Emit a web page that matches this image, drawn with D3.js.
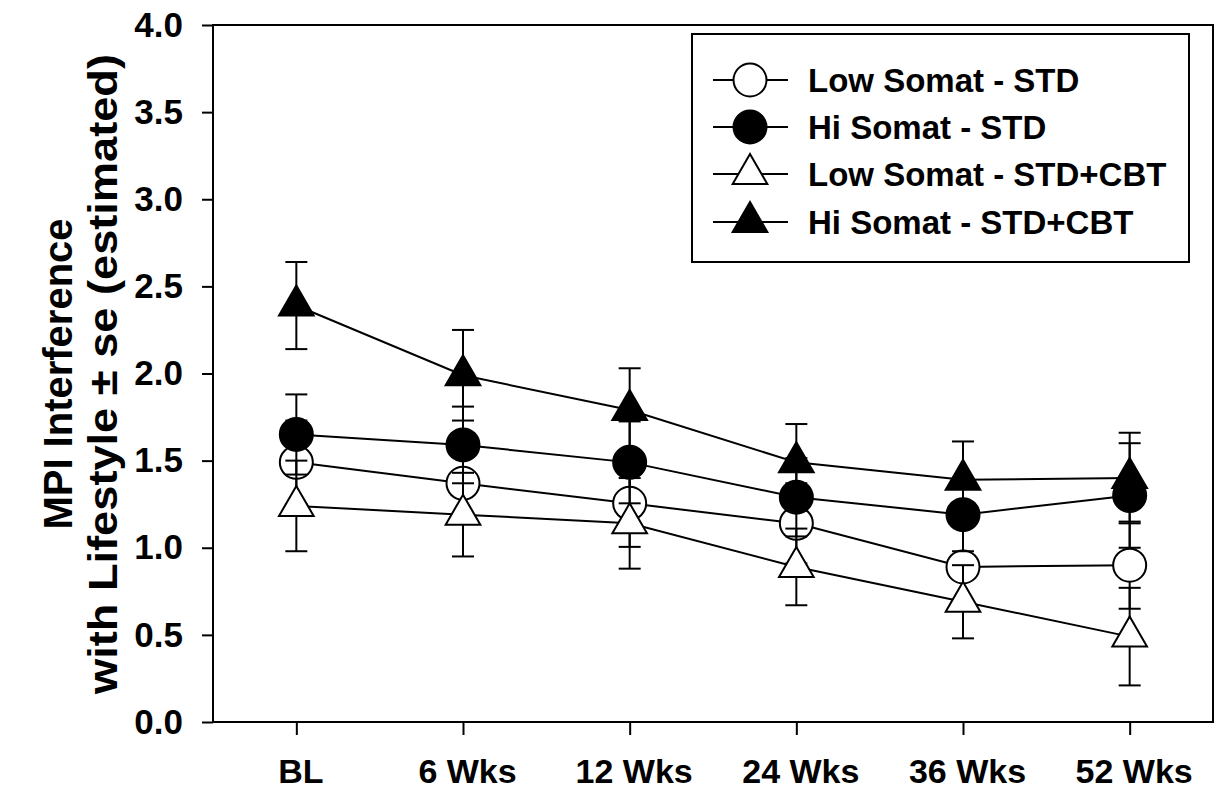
<!DOCTYPE html>
<html>
<head>
<meta charset="utf-8">
<script src="https://cdn.jsdelivr.net/npm/d3@7"></script>
<style>
  html, body { margin: 0; padding: 0; background: #fff; }
  svg { display: block; }
  text { font-family: "Liberation Sans", Arial, sans-serif; font-weight: bold; fill: #000; }
</style>
</head>
<body>
<svg id="chart" width="1218" height="789"></svg>
<script>
// ---- data ----
const categories = ["BL", "6 Wks", "12 Wks", "24 Wks", "36 Wks", "52 Wks"];
const yTicks = [0, 0.5, 1, 1.5, 2, 2.5, 3, 3.5, 4];
const seriesNames = ["Low Somat - STD", "Hi Somat - STD", "Low Somat - STD+CBT", "Hi Somat - STD+CBT"];

const lowStdMean  = [1.49, 1.37, 1.255, 1.14, 0.89, 0.90];
const lowStdSE    = [0.24, 0.22, 0.25, 0.23, 0.23, 0.25];
const hiStdMean   = [1.65, 1.59, 1.49, 1.29, 1.19, 1.30];
const hiStdSE     = [0.23, 0.22, 0.235, 0.225, 0.21, 0.30];
const lowCbtMean  = [1.24, 1.19, 1.14, 0.89, 0.69, 0.49];
const lowCbtSE    = [0.26, 0.24, 0.26, 0.22, 0.21, 0.28];
const hiCbtMean   = [2.39, 1.99, 1.79, 1.49, 1.39, 1.40];
const hiCbtSE     = [0.25, 0.26, 0.24, 0.22, 0.22, 0.26];

const series = [
  { name: seriesNames[0], mean: lowStdMean, se: lowStdSE, shape: "circle",   fill: "#fff" },
  { name: seriesNames[1], mean: hiStdMean,  se: hiStdSE,  shape: "circle",   fill: "#000" },
  { name: seriesNames[2], mean: lowCbtMean, se: lowCbtSE, shape: "triangle", fill: "#fff" },
  { name: seriesNames[3], mean: hiCbtMean,  se: hiCbtSE,  shape: "triangle", fill: "#000" }
];

// ---- layout ----
const svg = d3.select("#chart");
const L = 213, R = 1213, T = 25, B = 722;

const x = d3.scalePoint().domain(categories).range([L, R]).padding(0.5);
const y = d3.scaleLinear().domain([0, 4]).range([B, T]);

const sym = {
  circle: d3.symbol().type(d3.symbolCircle).size(Math.PI * 16.5 * 16.5),
  triangle: d3.symbol().type(d3.symbolTriangle).size(520)
};

// axes
const yAxis = d3.axisLeft(y).tickValues(yTicks).tickFormat(d3.format(".1f")).tickSize(11).tickPadding(19);
const gy = svg.append("g").attr("transform", `translate(${L},0)`).call(yAxis);
gy.select(".domain").remove();
gy.selectAll("line").attr("stroke", "#000").attr("stroke-width", 2);
gy.selectAll("text").style("font-size", "35px");

const xAxis = d3.axisBottom(x).tickSize(13).tickPadding(24);
const gx = svg.append("g").attr("transform", `translate(0,${B})`).call(xAxis);
gx.select(".domain").remove();
gx.selectAll("line").attr("stroke", "#000").attr("stroke-width", 2);
gx.selectAll("text").style("font-size", "34px").attr("dx", 4);

// frame
svg.append("rect").attr("x", L).attr("y", T).attr("width", R - L).attr("height", B - T)
  .attr("fill", "none").attr("stroke", "#000").attr("stroke-width", 2);

// y title
const title = svg.append("g").attr("transform", "translate(0,374) rotate(-90)");
title.append("text").attr("x", 0).attr("y", 72).attr("text-anchor", "middle")
  .style("font-size", "40px").text("MPI Interference");
title.append("text").attr("x", 0).attr("y", 117).attr("text-anchor", "middle")
  .attr("textLength", 640).attr("lengthAdjust", "spacingAndGlyphs")
  .style("font-size", "41px").text("with Lifestyle \u00B1 se (estimated)");

// series
const line = d3.line().x((d, i) => x(categories[i])).y(d => y(d));
const capW = 11;
series.forEach(s => {
  const g = svg.append("g");
  s.mean.forEach((m, i) => {
    const cx = x(categories[i]);
    const lo = y(m - s.se[i]), hi = y(m + s.se[i]);
    g.append("line").attr("x1", cx).attr("x2", cx).attr("y1", lo).attr("y2", hi)
      .attr("stroke", "#000").attr("stroke-width", 2);
    [lo, hi].forEach(yy => g.append("line").attr("x1", cx - capW).attr("x2", cx + capW)
      .attr("y1", yy).attr("y2", yy).attr("stroke", "#000").attr("stroke-width", 2));
  });
  g.append("path").datum(s.mean).attr("d", line).attr("fill", "none")
    .attr("stroke", "#000").attr("stroke-width", 2);
  g.selectAll(".m").data(s.mean).enter().append("path")
    .attr("transform", (d, i) => `translate(${x(categories[i])},${y(d)})`)
    .attr("d", sym[s.shape]()).attr("fill", s.fill).attr("stroke", "#000").attr("stroke-width", 2);
});

// legend
const lg = svg.append("g");
lg.append("rect").attr("x", 692).attr("y", 34).attr("width", 497).attr("height", 228)
  .attr("fill", "#fff").attr("stroke", "#000").attr("stroke-width", 2);
const rowY = [80, 127, 174, 222];
series.forEach((s, i) => {
  lg.append("line").attr("x1", 713).attr("x2", 788).attr("y1", rowY[i]).attr("y2", rowY[i])
    .attr("stroke", "#000").attr("stroke-width", 2);
  lg.append("path").attr("transform", `translate(750,${rowY[i]})`).attr("d", sym[s.shape]())
    .attr("fill", s.fill).attr("stroke", "#000").attr("stroke-width", 2);
  lg.append("text").attr("x", 808).attr("y", rowY[i]).attr("dy", "0.36em")
    .style("font-size", "33px").text(s.name);
});
</script>
</body>
</html>
